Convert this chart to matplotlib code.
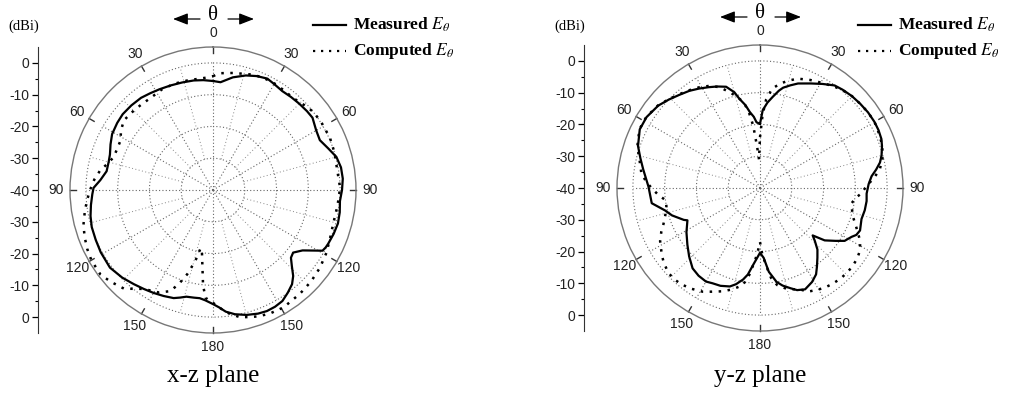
import numpy as np
import matplotlib
matplotlib.use("Agg")
import matplotlib.pyplot as plt
from matplotlib import font_manager
from matplotlib.lines import Line2D

plt.rcParams['mathtext.fontset'] = 'stix'

# ---- data (theta in degrees clockwise from top, gain in dBi) ----
xz_meas_ang = [0, 4, 10, 16, 21, 26, 30, 35, 40, 45, 50, 54, 60, 65, 70, 75, 80, 85,
               90, 95, 100, 105, 110, 115, 117, 119, 121, 124, 128, 131, 134, 137, 140,
               144, 148, 152, 156, 160, 165, 170, 174, 177, 180, 184, 187, 190, 194,
               197, 200, 205, 210, 215, 220, 226, 233, 241, 247, 253, 258, 263, 268,
               271, 275, 280, 285, 289, 294, 299, 305, 310, 316, 322, 327, 332, 338,
               344, 350, 355]
xz_meas_db = [-5.7, -6.0, -4.0, -2.5, -1.6, -1.0, -1.5, -2.0, -1.8, -1.6, -1.4, -1.3,
              -2.5, -2.9, -1.5, 0.2, 0.9, 1.0, 0.6, 0.1, 0.5, 0.7, 0.4, 0.0, -0.2, -0.6,
              -3.0, -6.0, -8.0, -7.5, -5.5, -3.0, -1.3, 0.0, 1.2, 1.6, 1.7, 1.4, 0.7,
              -0.3, -1.5, -3.0, -4.1, -5.2, -5.7, -5.6, -5.4, -4.6, -3.8, -3.2, -2.6,
              -2.0, -1.3, -0.3, 0.6, 0.4, 0.1, -0.1, -0.6, -1.3, -2.0, -2.4, -4.4, -6.0,
              -6.0, -5.7, -4.7, -3.7, -3.2, -2.9, -3.0, -3.2, -3.7, -4.1, -4.5, -4.8,
              -5.0, -5.3]

xz_comp_ang = [0, 3, 10, 19, 24, 29, 35, 41, 47, 52, 58, 66, 73, 80, 89, 97, 106, 112,
               119, 126, 133, 140, 149, 155, 160, 164, 168, 172, 176, 180, 184, 186,
               188, 190, 192, 194, 197, 200, 203, 208, 215, 222, 228, 233, 240, 245,
               250, 255, 261, 266, 270, 275, 280, 284, 288, 293, 298, 303, 308, 315,
               320, 326, 333, 340, 347, 353, 358]
xz_comp_db = [-4.2, -3.2, -2.6, -1.6, -1.3, -1.3, -1.5, -1.6, -0.8, 0.0, 0.2, 0.3, 0.0,
              -0.4, 0.0, -0.5, -0.7, -0.2, 0.8, 1.6, 2.2, 2.6, 3.1, 2.8, 2.3, 1.6, 0.9,
              -0.5, -2.5, -4.5, -6.0, -10.0, -16.0, -20.0, -21.3, -17.0, -12.3, -8.5,
              -5.4, -3.5, -2.0, 1.8, 3.2, 4.3, 4.2, 3.7, 3.0, 2.2, 0.8, -0.4, -1.3,
              -2.5, -4.0, -5.8, -7.0, -7.2, -7.0, -5.5, -4.4, -4.7, -4.9, -5.0, -4.5,
              -4.4, -4.6, -4.7, -4.5]

yz_meas_ang = [0, 2, 5, 8, 11, 13, 16.5, 20, 26, 31, 36, 40, 45, 50, 55, 60, 64, 68,
               71, 75, 78, 81, 84, 88, 93, 97, 102, 107, 113, 116, 118, 120, 122, 125,
               129, 132, 134, 137, 140.5, 144, 147, 151, 156, 160, 163, 167, 170, 174,
               177, 180, 183, 185, 188, 190.5, 194, 197, 202, 206.5, 210, 215, 220,
               226, 232, 239, 246, 247.3, 252.7, 256.7, 262, 270.7, 279, 284, 289, 296,
               302, 309, 314, 319, 324, 328.5, 333, 337, 341.5, 345, 347, 350, 352.4,
               355, 357]
yz_meas_db = [-19.8, -15.5, -13.0, -11.0, -8.8, -7.6, -6.3, -5.0, -3.4, -1.8, -0.1, 0.4,
              0.9, 1.2, 1.5, 1.6, 1.5, 1.2, 0.6, -0.4, -1.4, -3.0, -4.7, -5.8, -6.4,
              -6.2, -6.3, -6.6, -5.8, -6.3, -7.3, -8.0, -8.6, -11.0, -13.8, -17.7,
              -16.0, -13.5, -11.6, -9.5, -7.6, -6.2, -5.1, -5.8, -7.0, -8.5, -10.0,
              -13.5, -18.0, -19.6, -17.5, -15.8, -12.5, -10.7, -8.8, -7.6, -6.8, -6.5,
              -6.0, -6.3, -7.0, -9.0, -11.0, -13.0, -15.0, -14.0, -11.0, -9.3, -5.6,
              -4.9, -2.8, -1.2, 0.6, 2.1, 2.1, 1.2, 0.0, -1.2, -2.2, -3.3, -4.4, -5.3,
              -6.4, -8.8, -11.2, -13.5, -15.9, -17.5, -19.3]

yz_comp_ang = [0, 2, 4, 7, 11, 15, 19, 25, 31, 36, 40, 45, 50, 55, 60, 65, 70, 75.4,
               81, 85, 89, 93, 96, 99.6, 103, 107.4, 111, 115, 118, 122, 126, 131, 138,
               143, 147, 151, 155.4, 158, 162, 166, 170, 173, 175, 178, 180, 182, 184,
               187, 190, 195, 200, 205, 209, 214, 219, 223, 227, 232, 236, 242, 246,
               249.6, 254, 259, 262.7, 266, 269, 273, 277, 283, 289, 296, 302, 309, 314,
               319, 324, 329, 334, 338, 342.4, 346, 349, 351.5, 353.8, 356, 358]
yz_comp_db = [-24.0, -17.0, -12.0, -8.5, -6.5, -5.0, -3.6, -2.5, -1.5, -0.5, 0.3, 0.9,
              1.2, 1.5, 1.6, 1.2, 0.8, 0.0, -1.8, -4.0, -6.5, -8.0, -9.8, -10.8, -10.3,
              -9.3, -7.8, -5.9, -4.3, -2.9, -2.2, -1.8, -1.8, -2.2, -2.6, -3.3, -4.1,
              -5.5, -6.5, -7.5, -9.0, -11.5, -14.8, -19.0, -23.0, -20.0, -17.0, -12.5,
              -9.0, -7.0, -5.4, -4.0, -2.7, -1.7, -0.9, -0.6, -0.7, -1.6, -2.7, -4.4,
              -6.0, -7.6, -9.0, -10.0, -10.0, -8.0, -6.4, -4.2, -2.4, -1.1, 0.8, 2.2,
              2.2, 1.3, 0.1, -1.0, -2.0, -3.0, -4.2, -5.8, -8.3, -10.5, -12.4, -15.5,
              -20.3, -27.0, -31.0]

r_rings = [0, -10, -20, -30]
angle_ticks = list(range(0, 360, 30))
radial_labels = ['0', '-10', '-20', '-30', '-40', '-30', '-20', '-10', '0']
legend_labels = ['Measured $E_\\theta$', 'Computed $E_\\theta$']
captions = ['x-z plane', 'y-z plane']

W, H = 1012, 395
installed = {f.name for f in font_manager.fontManager.ttflist}
narrow = 'Liberation Sans Narrow' if 'Liberation Sans Narrow' in installed else 'Liberation Sans'
serif = 'Liberation Serif'

fig = plt.figure(figsize=(W / 100, H / 100), dpi=100)

DOTS = (0, (1, 2.6))


def closed(ang, db):
    a = np.radians(list(ang) + [ang[0]])
    return a, list(db) + [db[0]]


def polar_panel(cx, cy, meas, comp, caption, leg_x, axis_x):
    R = 143
    ax = fig.add_axes([(cx - R) / W, (H - cy - R) / H, 2 * R / W, 2 * R / H],
                      projection='polar')
    ax.set_theta_zero_location('N')
    ax.set_theta_direction(-1)
    ax.set_ylim(-40, 5)
    ax.grid(False)
    ax.set_xticks([])
    ax.set_yticks([])
    ax.spines['polar'].set_color('#777777')
    ax.spines['polar'].set_linewidth(1.0)

    # dotted grid
    t = np.linspace(0, 2 * np.pi, 400)
    for r in r_rings:
        ax.plot(t, np.full_like(t, r), color='#666666', lw=0.8, ls=(0, (1, 2)))
    for a in range(0, 360, 30):
        ax.plot([np.radians(a)] * 2, [-40, 0], color='#666666', lw=0.8, ls=(0, (1, 2)))
    for a in range(15, 360, 30):
        ax.plot([np.radians(a)] * 2, [-30, 0], color='#888888', lw=0.7, ls=(0, (1, 2.5)))
    for a in angle_ticks:
        ax.plot([np.radians(a)] * 2, [3.2, 5], color='#333333', lw=1.0, clip_on=False)
        lab = a if a <= 180 else 360 - a
        ax.text(np.radians(a), 9.3, str(lab), ha='center', va='center',
                fontsize=10, family=narrow, color='#222222', clip_on=False)

    a, d = closed(*comp)
    ax.plot(a, d, color='black', lw=1.8, ls=DOTS)
    a, d = closed(*meas)
    ax.plot(a, d, color='black', lw=1.6)

    # radial scale on the left
    top, bot = cy - R, cy + R
    axr = fig.add_axes([axis_x / W, (H - bot) / H, 0.0005, (bot - top) / H])
    axr.set_ylim(0, 90)
    for s in ['top', 'right', 'bottom']:
        axr.spines[s].set_visible(False)
    axr.spines['left'].set_color('#333333')
    axr.set_xticks([])
    axr.set_yticks(range(5, 90, 10))
    axr.set_yticklabels(radial_labels, family=narrow, fontsize=10, color='#222222')
    axr.set_yticks(range(10, 90, 10), minor=True)
    axr.tick_params(axis='y', which='major', length=4, width=0.9, pad=2)
    axr.tick_params(axis='y', which='minor', length=2.5, width=0.8)
    fig.text((axis_x - 14) / W, 1 - 26 / H, '(dBi)', family=serif, fontsize=10.5,
             ha='center', va='center')

    # theta marker with arrows
    fig.text(cx / W, 1 - (cy - 175) / H, 'θ', family=serif, fontsize=15,
             ha='center', va='center')
    ya = H - (cy - 171)
    for x0, x1 in [(cx - 13, cx - 40), (cx + 15, cx + 41)]:
        ax.annotate('', xy=(x1, ya), xytext=(x0, ya), xycoords='figure pixels',
                    textcoords='figure pixels',
                    arrowprops=dict(arrowstyle='-|>,head_length=0.9,head_width=0.35',
                                    color='black', lw=0.9, shrinkA=0, shrinkB=0))

    # legend
    for i, (lab, ls) in enumerate(zip(legend_labels, ['-', DOTS])):
        y = 25 + 26 * i
        fig.add_artist(Line2D([leg_x / W, (leg_x + 33) / W], [1 - y / H, 1 - y / H],
                              color='black', lw=1.6, ls=ls))
        fig.text((leg_x + 40) / W, 1 - y / H, lab, family=serif, fontweight='bold',
                 fontsize=12.5, ha='left', va='center')

    fig.text(cx / W, 1 - 376 / H, caption, family=serif, fontsize=18,
             ha='center', va='center')


polar_panel(213, 190, (xz_meas_ang, xz_meas_db), (xz_comp_ang, xz_comp_db),
            captions[0], 313, 38)
polar_panel(760, 188, (yz_meas_ang, yz_meas_db), (yz_comp_ang, yz_comp_db),
            captions[1], 858, 584)

fig.savefig('out.png', dpi=100, facecolor='white')
